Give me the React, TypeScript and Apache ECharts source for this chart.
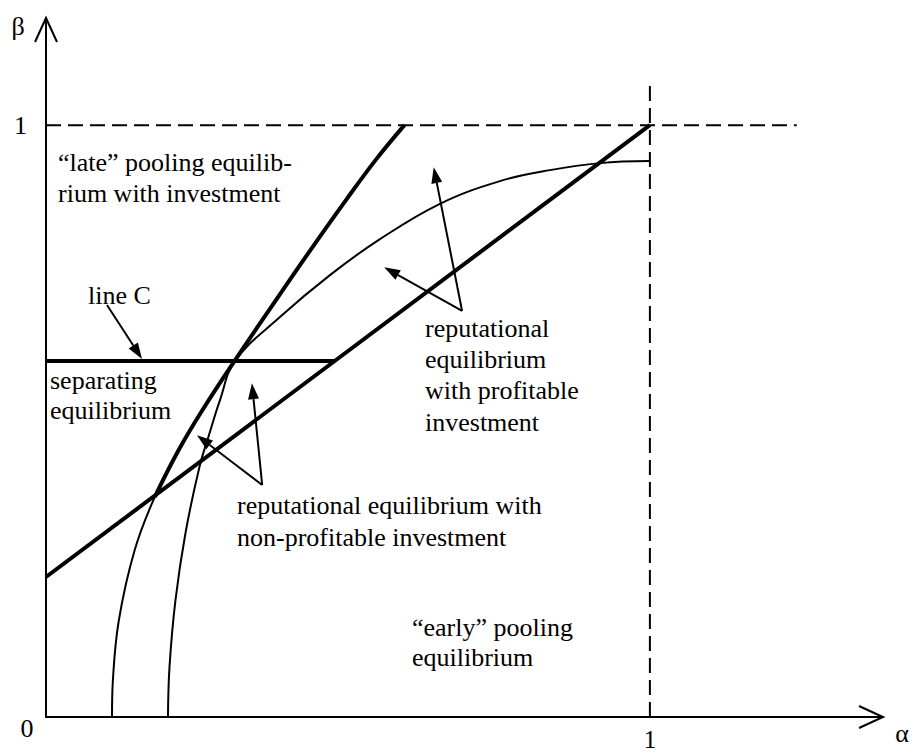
import React, { useEffect, useRef } from "react";
import * as echarts from "echarts";

// Axis extents (data units)
const ALPHA_MAX = 1.386;
const BETA_MAX = 1.181;

// Curves: [alpha, beta]
const leftCurve: [number, number][] = [
  [0.1093, 0], [0.1108, 0.0625], [0.1207, 0.1639], [0.1469, 0.2821], [0.18, 0.3716],
  [0.2197, 0.451], [0.2591, 0.5186], [0.3121, 0.6014], [0.3808, 0.7044], [0.4379, 0.7889],
  [0.4967, 0.8733], [0.5457, 0.9409], [0.5935, 1.0],
];
const LEFT_THICK_FROM = 4; // the curve is drawn thick above the diagonal
const rightCurve: [number, number][] = [
  [0.202, 0], [0.2045, 0.0845], [0.2144, 0.1976], [0.231, 0.3108], [0.2541, 0.4223],
  [0.2699, 0.4764], [0.2881, 0.5355], [0.3129, 0.6014], [0.3874, 0.6757], [0.4702, 0.7466],
  [0.553, 0.8074], [0.6523, 0.8671], [0.7517, 0.9054], [0.8344, 0.924], [0.9172, 0.9358],
  [1.0, 0.9392],
];
const diagonal: [number, number][] = [[0, 0.2365], [1, 1]];
const lineC: [number, number][] = [[0, 0.6014], [0.477, 0.6014]];
const dashH: [number, number][] = [[0, 1], [1.243, 1]];
const dashV: [number, number][] = [[1, 0], [1, 1.068]];

// Annotation arrows: [fromAlpha, fromBeta, toAlpha, toBeta]
const arrows: number[][] = [
  [0.101, 0.696, 0.159, 0.605],
  [0.689, 0.686, 0.642, 0.929],
  [0.689, 0.686, 0.56, 0.76],
  [0.358, 0.392, 0.341, 0.564],
  [0.358, 0.392, 0.25, 0.476],
];
// Axis arrowheads: [tipAlpha, tipBeta, dirX, dirY] (screen direction)
const axisArrows: number[][] = [
  [ALPHA_MAX, 0, 1, 0],
  [0, BETA_MAX, 0, -1],
];

const FONT = '"Liberation Serif", "Times New Roman", serif';

export default function App() {
  const ref = useRef<HTMLDivElement>(null);
  useEffect(() => {
    if (!ref.current) return;
    const chart = echarts.init(ref.current, undefined, { renderer: "svg" });
    const black = "#000";
    const lineSeries = (data: [number, number][], width: number, extra: any = {}) => ({
      type: "line",
      data,
      showSymbol: false,
      symbol: "none",
      clip: false,
      lineStyle: { color: black, width, ...(extra.lineStyle || {}) },
      smooth: extra.smooth ?? false,
      z: extra.z ?? 2,
      silent: true,
    });
    const txt = (x: number, y: number, text: string, lh: number, align = "left", va = "top") => ({
      type: "text",
      x,
      y,
      silent: true,
      style: { text, font: `26px ${FONT}`, fill: black, align, verticalAlign: va, lineHeight: lh },
    });
    chart.setOption({
      animation: false,
      backgroundColor: "#fff",
      grid: { left: 46, top: 18, width: 837, height: 699, containLabel: false, outerBoundsMode: "none" },
      xAxis: {
        type: "value", min: 0, max: ALPHA_MAX, interval: 1,
        splitLine: { show: false }, axisTick: { show: false },
        axisLine: { show: true, onZero: false, lineStyle: { color: black, width: 2 } },
        axisLabel: {
          color: black, fontFamily: FONT, fontSize: 25, margin: 12, lineHeight: 20,
          formatter: (v: number) => (v === 1 ? "1" : ""),
        },
      },
      yAxis: {
        type: "value", min: 0, max: BETA_MAX, interval: 1,
        splitLine: { show: false }, axisTick: { show: false },
        axisLine: { show: true, onZero: false, lineStyle: { color: black, width: 2 } },
        axisLabel: {
          color: black, fontFamily: FONT, fontSize: 26, margin: 19,
          formatter: (v: number) => (v === 1 ? "1" : ""),
        },
      },
      series: [
        lineSeries(dashH, 2, { lineStyle: { type: [15, 7] } }),
        lineSeries(dashV, 2, { lineStyle: { type: [15, 7] } }),
        lineSeries(leftCurve, 2, { smooth: 0.4 }),
        lineSeries(leftCurve.slice(LEFT_THICK_FROM), 4, { smooth: 0.4, z: 3 }),
        lineSeries(rightCurve, 2, { smooth: 0.4 }),
        lineSeries(diagonal, 4, { z: 3 }),
        lineSeries(lineC, 4, { z: 3 }),
        {
          type: "custom",
          clip: false,
          silent: true,
          z: 4,
          data: arrows,
          renderItem: (_p: any, api: any) => {
            const a = api.coord([api.value(0), api.value(1)]);
            const b = api.coord([api.value(2), api.value(3)]);
            const dx = b[0] - a[0], dy = b[1] - a[1];
            const len = Math.hypot(dx, dy) || 1;
            const ux = dx / len, uy = dy / len;
            const L = 16, W = 5.5;
            const bx = b[0] - ux * L, by = b[1] - uy * L;
            return {
              type: "group",
              children: [
                { type: "line", shape: { x1: a[0], y1: a[1], x2: bx, y2: by }, style: { stroke: black, lineWidth: 2 } },
                {
                  type: "polygon",
                  shape: { points: [[b[0], b[1]], [bx - uy * W, by + ux * W], [bx + uy * W, by - ux * W]] },
                  style: { fill: black },
                },
              ],
            };
          },
        },
        {
          type: "custom",
          clip: false,
          silent: true,
          z: 4,
          data: axisArrows,
          renderItem: (_p: any, api: any) => {
            const t = api.coord([api.value(0), api.value(1)]);
            const ux = api.value(2), uy = api.value(3);
            const L = 24, W = 11;
            const bx = t[0] - ux * L, by = t[1] - uy * L;
            return {
              type: "polyline",
              shape: { points: [[bx - uy * W, by + ux * W], [t[0], t[1]], [bx + uy * W, by - ux * W]] },
              style: { stroke: black, lineWidth: 2, fill: null },
            };
          },
        },
      ],
      graphic: [
        txt(58, 146.5, "\u201clate\u201d pooling equilib-\nrium with investment", 31),
        txt(88, 279.5, "line C", 31),
        txt(50, 365, "separating\nequilibrium", 30),
        txt(425, 312.5, "reputational\nequilibrium\nwith profitable\ninvestment", 31.3),
        txt(237, 489, "reputational equilibrium with\nnon-profitable investment", 32),
        txt(412, 612, "\u201cearly\u201d pooling\nequilibrium", 30),
        txt(18, 26, "\u03b2", 30, "center", "middle"),
        txt(902, 733, "\u03b1", 30, "center", "middle"),
        txt(27, 728, "0", 30, "center", "middle"),
      ],
    });
    return () => chart.dispose();
  }, []);
  return (
    <div
      ref={ref}
      style={{ position: "fixed", left: 0, top: 0, width: 915, height: 753, background: "#fff" }}
    />
  );
}
